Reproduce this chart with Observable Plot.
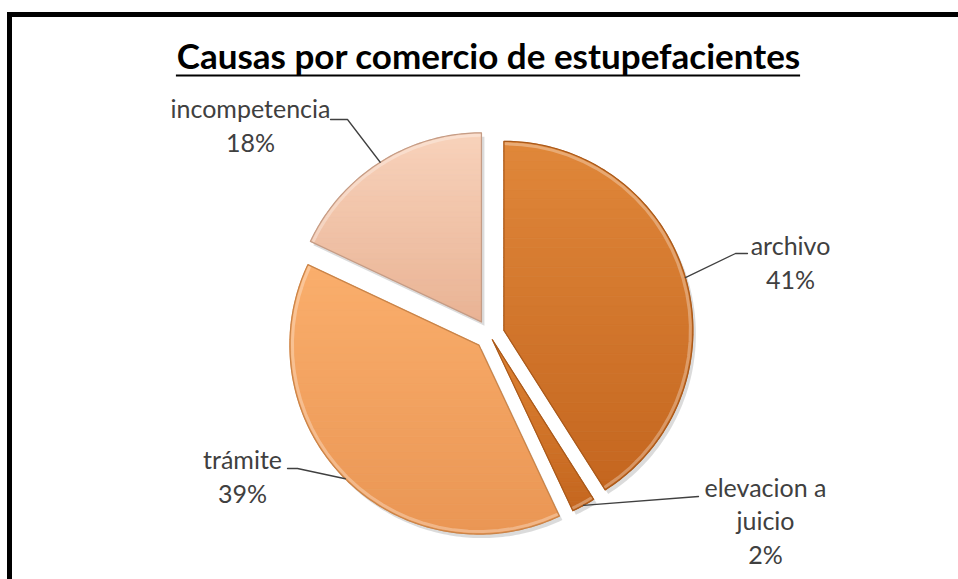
<!DOCTYPE html>
<html><head><meta charset="utf-8">
<script src="https://cdn.jsdelivr.net/npm/d3@7"></script>
<script src="https://cdn.jsdelivr.net/npm/@observablehq/plot@0.6"></script>
<style>
html,body{margin:0;padding:0;background:#fff;}
#wrap{position:relative;width:958px;height:579px;overflow:hidden;}
#frame{position:absolute;left:7px;top:12px;width:960px;height:580px;border-left:5px solid #000;border-top:5px solid #000;}
#chart{position:absolute;left:0;top:0;}
</style></head><body>
<div id="wrap"><div id="frame"></div><div id="chart"></div></div>
<script>
// ---- data ----
const title = "Causas por comercio de estupefacientes";
const categories = ["archivo", "elevacion a juicio", "trámite", "incompetencia"];
const labelText = ["archivo", "elevacion a\njuicio", "trámite", "incompetencia"];
const values = [41, 2, 39, 18];
const percentLabels = ["41%", "2%", "39%", "18%"];

// ---- layout / style ----
const W = 958, H = 579;
const cx = 489, cy = 334, R = 189;
const explodes = [15, 6, 15, 15];
const labelCenter = [[790, 261], [765, 519], [242, 475], [250, 124]];
const leaderElbow = [[[747, 253], [735, 253]], [[698, 496]], [[287, 468], [297, 468]], [[330, 119], [347, 119]]];
const topColors = ["#e0873a", "#de8232", "#faae6c", "#f8d2bb"];
const bottomColors = ["#c4661f", "#c4661f", "#ea9654", "#e9b394"];
const outlineColors = ["#a9591a", "#a9591a", "#c98449", "#c49c86"];
const titleFont = "bold 35px Lato", titleSize = 35, titleX = 488, titleY = 57;

const arcs = d3.pie().sort(null).value(d => d)(values);

// slice polygons
const polys = arcs.map((a, i) => {
  const mid = (a.startAngle + a.endAngle) / 2;
  const ox = cx + explodes[i] * Math.sin(mid), oy = cy - explodes[i] * Math.cos(mid);
  const n = Math.max(4, Math.ceil((a.endAngle - a.startAngle) / (Math.PI / 180)));
  const pts = [[ox, oy]];
  for (let k = 0; k <= n; k++) {
    const t = a.startAngle + (a.endAngle - a.startAngle) * k / n;
    pts.push([ox + R * Math.sin(t), oy - R * Math.cos(t)]);
  }
  return {pts, ox, oy, mid, a};
});

function clipHalf(poly, inside, yc) {
  const out = [];
  for (let k = 0; k < poly.length; k++) {
    const p = poly[k], q = poly[(k + 1) % poly.length];
    const pin = inside(p), qin = inside(q);
    if (pin) out.push(p);
    if (pin !== qin) {
      const t = (yc - p[1]) / (q[1] - p[1]);
      out.push([p[0] + t * (q[0] - p[0]), yc]);
    }
  }
  return out;
}

// vertical gradient bands (each band is a clipped piece of a slice)
const bandRows = [];
const NB = 36;
polys.forEach((P, i) => {
  const ys = P.pts.map(p => p[1]);
  const y0 = d3.min(ys), y1 = d3.max(ys);
  const interp = d3.interpolateRgb(topColors[i], bottomColors[i]);
  for (let b = 0; b < NB; b++) {
    const ya = y0 + (y1 - y0) * b / NB, yb = y0 + (y1 - y0) * (b + 1) / NB;
    let poly = clipHalf(P.pts, p => p[1] >= ya, ya);
    poly = clipHalf(poly, p => p[1] <= yb, yb);
    const c = d3.color(interp((b + 0.5) / NB)).formatHex();
    poly.forEach(p => bandRows.push({id: i * 100 + b, x: p[0], y: p[1], c}));
    if (poly.length) bandRows.push({id: i * 100 + b, x: poly[0][0], y: poly[0][1], c});
  }
});

const outlineRows = [], shadowRows = [], rimRows = [];
polys.forEach((P, i) => {
  P.pts.concat([P.pts[0]]).forEach(p => {
    outlineRows.push({i, x: p[0], y: p[1], c: outlineColors[i]});
    shadowRows.push({i, x: p[0], y: p[1]});
  });
  const n = 30;
  for (let k = 0; k <= n; k++) {
    const t = P.a.startAngle + 0.01 + (P.a.endAngle - P.a.startAngle - 0.02) * k / n;
    rimRows.push({i, x: P.ox + (R - 2.5) * Math.sin(t), y: P.oy - (R - 2.5) * Math.cos(t)});
  }
});

const leaders = [];
polys.forEach((P, i) => {
  leaderElbow[i].forEach(p => leaders.push({i, x: p[0], y: p[1]}));
  leaders.push({i, x: P.ox + R * Math.sin(P.mid), y: P.oy - R * Math.cos(P.mid)});
});

const labels = categories.map((c, i) => ({
  x: labelCenter[i][0], y: labelCenter[i][1],
  text: labelText[i] + "\n" + percentLabels[i]
}));

// measure title width for underline
const ctx = document.createElement("canvas").getContext("2d");
ctx.font = titleFont;
const tw = ctx.measureText(title).width;

const plot = Plot.plot({
  width: W, height: H, margin: 0,
  x: {domain: [0, W], range: [0, W], axis: null},
  y: {domain: [0, H], range: [0, H], axis: null},
  color: {type: "identity"},
  style: {background: "none", overflow: "visible"},
  marks: [
    Plot.line(shadowRows, {
      x: d => d.x + 3, y: d => d.y + 4, z: "i",
      fill: "#000", fillOpacity: 0.14, stroke: "none"
    }),
    Plot.line(bandRows, {x: "x", y: "y", z: "id", fill: "c", stroke: "c", strokeWidth: 0.8}),
    Plot.line(rimRows, {x: "x", y: "y", z: "i", stroke: "#fff", strokeOpacity: 0.3, strokeWidth: 3}),
    Plot.line(outlineRows, {x: "x", y: "y", z: "i", stroke: "c", strokeWidth: 1.2, strokeLinejoin: "round"}),
    Plot.line(leaders, {x: "x", y: "y", z: "i", stroke: "#404040", strokeWidth: 1.3}),
    Plot.text(labels, {x: "x", y: "y", text: "text", fontSize: 25, fill: "#404040",
      lineHeight: 1.35, fontFamily: "Lato"}),
    Plot.text([{x: titleX, y: titleY, t: title}], {x: "x", y: "y", text: "t", fontSize: titleSize,
      fontWeight: "bold", fill: "#000", fontFamily: "Lato"}),
    Plot.ruleY([{y: titleY + 18, x1: titleX - tw / 2, x2: titleX + tw / 2}],
      {y: "y", x1: "x1", x2: "x2", stroke: "#000", strokeWidth: 2})
  ]
});

document.getElementById("chart").appendChild(plot);
</script>
</body></html>
